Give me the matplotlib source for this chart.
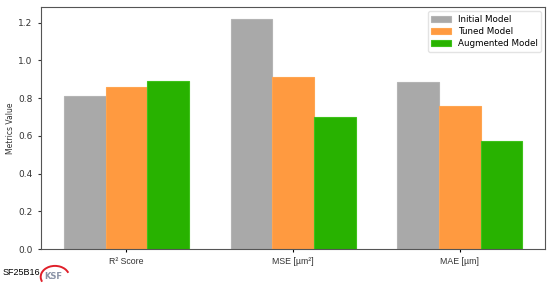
import numpy as np
import matplotlib.pyplot as plt
from matplotlib.patches import Arc

categories = ["R² Score", "MSE [µm²]", "MAE [µm]"]
models = ["Initial Model", "Tuned Model", "Augmented Model"]
initial = [0.811, 1.221, 0.885]
tuned = [0.860, 0.912, 0.759]
augmented = [0.892, 0.699, 0.575]

colors = ["#a9a9a9", "#ff9a40", "#28b200"]
edges = ["#b4b4b4", "#ffa550", "#3ec21a"]

fig = plt.figure(figsize=(5.5, 2.93), dpi=100)
ax = fig.add_axes([0.0745, 0.150, 0.917, 0.826])

x = np.arange(len(categories))
w = 0.25
for i, (vals, name) in enumerate(zip([initial, tuned, augmented], models)):
    ax.bar(x + (i - 1) * w, vals, w, color=colors[i], edgecolor=edges[i],
           linewidth=0.8, label=name)

ax.set_xticks(x)
ax.set_xticklabels(categories, fontsize=6.3, family="Liberation Sans", color="#333333")
ax.tick_params(axis="y", labelsize=6.5, colors="#333333", length=2.5)
ax.tick_params(axis="x", length=2.5)
ax.set_ylabel("Metrics Value", fontsize=5.5, color="#333333")
ax.yaxis.set_label_coords(-0.052, 0.5)
for s in ax.spines.values():
    s.set_color("#555555")
leg = ax.legend(loc="upper right", fontsize=6.3, frameon=True, handlelength=2.2,
                borderpad=0.4, labelspacing=0.35)
leg.get_frame().set_edgecolor("#dddddd")

# watermark / logo in the bottom-left corner
fig.text(0.004, 0.07, "SF25B16", fontsize=6.5, family="Liberation Sans", va="center")
fig.text(0.080, 0.058, "KSF", fontsize=6, family="DejaVu Sans", weight="bold",
         color="#8a93a6", va="center")
arc = Arc((0.100, 0.055), 0.052, 0.075, theta1=30, theta2=215,
          transform=fig.transFigure, color="#e0202a", lw=1.4)
fig.add_artist(arc)

fig.savefig("out.png", dpi=100)
